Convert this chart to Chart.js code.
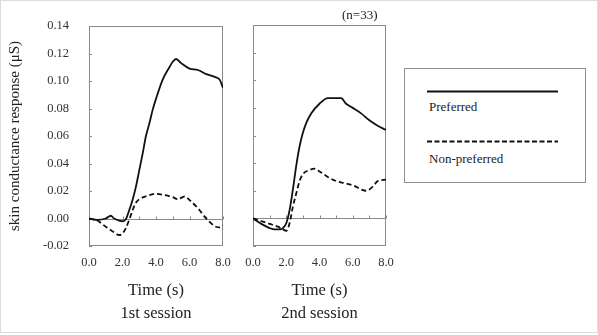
<!DOCTYPE html>
<html>
<head>
<meta charset="utf-8">
<script src="https://cdn.jsdelivr.net/npm/chart.js@4.4.1/dist/chart.umd.min.js"></script>
<style>
  html, body { margin: 0; padding: 0; }
  body { width: 598px; height: 335px; position: relative; background: #fff; overflow: hidden;
         font-family: 'Liberation Serif', serif; color: #222; }
  #frame { position: absolute; left: 0; top: 0; width: 596px; height: 331px; border: 1px solid #ddd; }
  canvas { position: absolute; top: 0; }
  #c1 { left: 0; }
  #c2 { left: 234px; }
  #n { position: absolute; left: 342px; top: 7px; font-size: 13px; }
  #legend { position: absolute; left: 404px; top: 68px; width: 182px; height: 115px;
            border: 1px solid #8f8f8f; box-sizing: border-box; }
  #legend svg { position: absolute; left: 0; top: 0; }
  #legend span { position: absolute; left: 24px; font-size: 13px; line-height: 16px; }
</style>
</head>
<body>
<div id="frame"></div>
<canvas id="c1" width="234" height="335"></canvas>
<canvas id="c2" width="166" height="335"></canvas>
<div id="n">(n=33)</div>
<div id="legend">
  <svg width="182" height="115">
    <line x1="22" y1="22.5" x2="153" y2="22.5" stroke="#111" stroke-width="2"/>
    <line x1="22" y1="72.5" x2="153" y2="72.5" stroke="#111" stroke-width="2" stroke-dasharray="5,2.5"/>
  </svg>
  <span style="top:30px">Preferred</span>
  <span style="top:82px">Non-preferred</span>
</div>
<script>
// time (s) and skin conductance response (uS)
const tPref1 = [0, 0.5, 1.0, 1.3, 1.5, 1.8, 2.0, 2.2, 2.4, 2.6, 2.8, 3.0, 3.2, 3.4, 3.6, 3.8, 4.0, 4.4, 4.8, 5.0, 5.2, 5.5, 6.0, 6.5, 7.0, 7.5, 7.8, 8.0];
const pref1 = [0, -0.001, 0, 0.002, 0, -0.0015, -0.002, -0.0005, 0.006, 0.0135, 0.023, 0.035, 0.047, 0.06, 0.069, 0.079, 0.087, 0.101, 0.11, 0.114, 0.116, 0.113, 0.109, 0.108, 0.105, 0.103, 0.101, 0.095];
const tNon1 = [0, 0.5, 1.0, 1.5, 1.8, 2.0, 2.2, 2.4, 2.6, 2.8, 3.0, 3.5, 4.0, 4.5, 5.0, 5.3, 5.7, 6.0, 6.5, 7.0, 7.5, 7.8, 8.0];
const non1 = [0, -0.0015, -0.006, -0.01, -0.012, -0.011, -0.007, -0.001, 0.006, 0.0115, 0.014, 0.0165, 0.018, 0.017, 0.0155, 0.014, 0.016, 0.0135, 0.0075, 0, -0.0055, -0.0065, -0.005];
const tPref2 = [0, 0.5, 1.0, 1.3, 1.6, 1.8, 2.0, 2.2, 2.4, 2.6, 2.8, 3.0, 3.2, 3.5, 4.0, 4.5, 5.0, 5.3, 5.6, 6.0, 6.5, 7.0, 7.5, 8.0];
const pref2 = [0, -0.004, -0.007, -0.008, -0.008, -0.007, -0.0035, 0.006, 0.021, 0.038, 0.052, 0.062, 0.069, 0.076, 0.083, 0.087, 0.087, 0.087, 0.083, 0.08, 0.076, 0.071, 0.067, 0.064];
const tNon2 = [0, 0.5, 1.0, 1.5, 1.8, 2.0, 2.2, 2.4, 2.6, 2.8, 3.0, 3.4, 3.7, 4.0, 4.5, 5.0, 5.5, 6.0, 6.5, 6.8, 7.2, 7.5, 8.0];
const non2 = [0, -0.002, -0.004, -0.006, -0.008, -0.009, -0.0035, 0.0085, 0.018, 0.027, 0.032, 0.035, 0.036, 0.034, 0.03, 0.027, 0.0255, 0.024, 0.021, 0.02, 0.023, 0.027, 0.028];

const yMin = -0.02, yMax = 0.14, yStep = 0.02;
const xMin = 0, xMax = 8;

Chart.defaults.font.family = "'Liberation Serif', serif";
Chart.defaults.color = "#333";

const pts = (ts, vs) => ts.map((t, i) => ({ x: t, y: vs[i] }));

// box round the plot, zero line with small ticks, inward y ticks
const boxPlugin = {
  id: "box",
  beforeDatasetsDraw(chart) {
    const { ctx, chartArea: a, scales: { x, y } } = chart;
    ctx.save();
    ctx.strokeStyle = "#8a8a8a";
    ctx.lineWidth = 1;
    ctx.strokeRect(Math.round(a.left) + 0.5, Math.round(a.top) + 0.5, Math.round(a.width) - 1, Math.round(a.height) - 1);
    const y0 = Math.round(y.getPixelForValue(0)) + 0.5;
    ctx.beginPath();
    ctx.moveTo(a.left, y0);
    ctx.lineTo(a.right, y0);
    x.ticks.forEach(t => {
      const px = Math.round(x.getPixelForValue(t.value)) + 0.5;
      ctx.moveTo(px, y0);
      ctx.lineTo(px, y0 - 3);
    });
    y.ticks.forEach(t => {
      const py = Math.round(y.getPixelForValue(t.value)) + 0.5;
      ctx.moveTo(a.left, py);
      ctx.lineTo(a.left + 3, py);
    });
    ctx.stroke();
    ctx.restore();
  }
};

function makeChart(id, prefData, nonData, session, first) {
  return new Chart(document.getElementById(id), {
    type: "line",
    data: {
      datasets: [
        { label: "Preferred", data: prefData, borderColor: "#111", borderWidth: 1.8 },
        { label: "Non-preferred", data: nonData, borderColor: "#111", borderWidth: 1.8, borderDash: [5, 3] }
      ]
    },
    options: {
      responsive: false,
      animation: false,
      devicePixelRatio: 1,
      parsing: false,
      elements: { point: { radius: 0 }, line: { tension: 0.4, cubicInterpolationMode: "monotone" } },
      layout: { padding: { top: first ? 26 : 25, right: first ? 11 : 14, left: 0, bottom: 0 } },
      plugins: {
        legend: { display: false },
        tooltip: { enabled: false }
      },
      scales: {
        x: {
          type: "linear",
          min: xMin,
          max: xMax,
          grid: { display: false },
          border: { display: false },
          ticks: {
            stepSize: 1,
            autoSkip: false,
            maxRotation: 0,
            padding: 1,
            font: { size: 12.5 },
            callback: v => (v % 2 === 0 ? v.toFixed(1) : "")
          },
          title: {
            display: true,
            text: ["Time (s)", session],
            color: "#222",
            font: { size: 16.5, lineHeight: 1.4 },
            padding: { top: 0, bottom: 10 }
          },
          afterFit: s => { s.height = 89; }
        },
        y: {
          min: yMin,
          max: yMax,
          grid: { display: false },
          border: { display: false },
          ticks: {
            display: first,
            stepSize: yStep,
            padding: 12,
            font: { size: 12.5 },
            callback: v => v.toFixed(2)
          },
          title: {
            display: first,
            text: "skin conductance response (\u03bcS)",
            color: "#222",
            font: { size: 15 },
            padding: { top: 6, bottom: 0 }
          },
          afterFit: s => { s.width = first ? 89 : 19; }
        }
      }
    },
    plugins: [boxPlugin]
  });
}

makeChart("c1", pts(tPref1, pref1), pts(tNon1, non1), "1st session", true);
makeChart("c2", pts(tPref2, pref2), pts(tNon2, non2), "2nd session", false);
</script>
</body>
</html>
